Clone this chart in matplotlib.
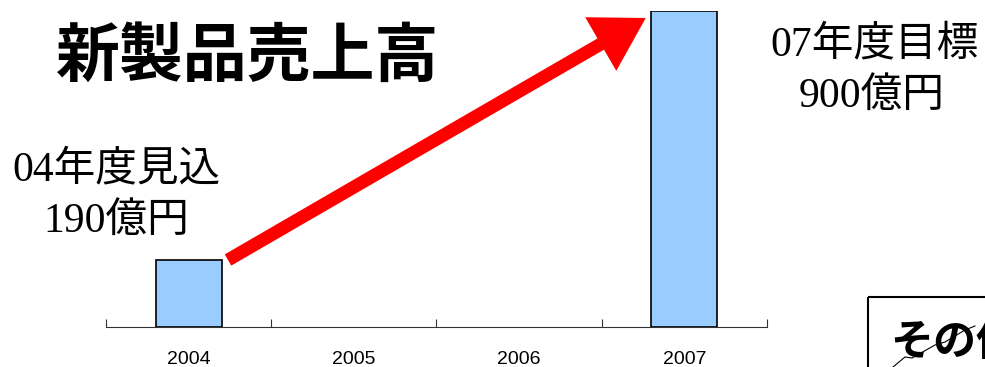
import matplotlib.pyplot as plt
from matplotlib.patches import FancyArrow, Rectangle

years = ["2004", "2005", "2006", "2007"]
sales = [190, 0, 0, 900]

cjk = ["Liberation Serif", "Noto Sans CJK JP"]
sans = ["Liberation Sans", "DejaVu Sans"]

W, H = 985, 367
fig = plt.figure(figsize=(W / 100, H / 100), dpi=100)

# bar chart
ax = fig.add_axes([106 / W, (H - 327) / H, (767 - 106) / W, (327 - 11) / H])
x = range(len(years))
for i, v in zip(x, sales):
    if v > 0:
        ax.bar(i, v, width=0.4, color="#99CCFF", edgecolor="black", linewidth=1.2, zorder=3)
ax.set_xlim(-0.5, len(years) - 0.5)
ax.set_ylim(0, 900)
for s in ["top", "right", "left"]:
    ax.spines[s].set_visible(False)
ax.spines["bottom"].set_color("#333333")
ax.set_yticks([])
ax.set_xticks([i - 0.5 for i in range(len(years) + 1)])
ax.set_xticklabels([])
ax.tick_params(axis="x", which="major", direction="in", length=6, color="#333333")
ax.set_xticks(list(x), minor=True)
ax.set_xticklabels(years, minor=True, fontsize=14, family=sans)
ax.tick_params(axis="x", which="minor", length=0, pad=17)

# overlay in pixel coords for texts and arrow
ov = fig.add_axes([0, 0, 1, 1], zorder=5)
ov.set_xlim(0, W)
ov.set_ylim(H, 0)
ov.axis("off")
ov.patch.set_alpha(0)

ov.text(248, 57, "新製品売上高", fontsize=46, fontweight="bold",
        family=["Noto Sans CJK JP"], ha="center", va="center")
ov.text(116, 170, "04年度見込", fontsize=30, family=cjk, ha="center", va="center")
ov.text(116, 222, "190億円", fontsize=30, family=cjk, ha="center", va="center")
ov.text(770, 45, "07年度目標", fontsize=30, family=cjk, ha="left", va="center")
ov.text(872, 97, "900億円", fontsize=30, family=cjk, ha="center", va="center")

ov.add_patch(FancyArrow(228, 260, 416 - 50 * 0.865, -241 + 50 * 0.501, width=13,
                        head_width=62, head_length=52, color="red", lw=0,
                        length_includes_head=False))

ov.add_patch(Rectangle((868, 297), 200, 120, fill=False, edgecolor="black", lw=1.5))
ov.text(890, 342, "その他", fontsize=31, fontweight="bold",
        family=["Noto Sans CJK JP"], ha="left", va="center")
ov.plot([893, 905, 912, 935, 945, 965, 975], [367, 357, 358, 345, 342, 330, 326],
        color="black", lw=0.8)

fig.savefig("out.png", dpi=100)
